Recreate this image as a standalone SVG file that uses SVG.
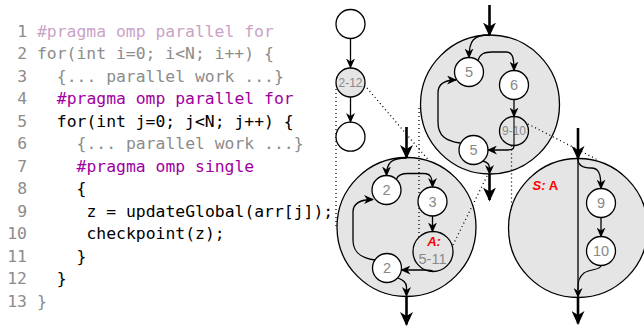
<svg xmlns="http://www.w3.org/2000/svg" width="644" height="327" viewBox="0 0 644 327">
<style>
.code{font-family:"DejaVu Sans Mono","Liberation Mono",monospace;font-size:16.4px}
.ln{fill:#8c8c8c;text-anchor:end}
.pk{fill:#c9a3c6}
.gy{fill:#8c8c8c}
.pu{fill:#a000a0}
.bk{fill:#000}
.big{fill:#e5e5e5;stroke:#000;stroke-width:1.3}
.nd{fill:#fff;stroke:#000;stroke-width:1.3}
.ndg{fill:#e5e5e5;stroke:#000;stroke-width:1.3}
.lbl{font-family:"Liberation Sans",Arial,sans-serif;font-size:14.5px;fill:#888;text-anchor:middle}
.sm{font-size:12px}
.thin{fill:none;stroke:#000;stroke-width:1.3;marker-end:url(#ah)}
.line{fill:none;stroke:#000;stroke-width:1.1}
.thick{fill:none;stroke:#000;stroke-width:2.6;marker-end:url(#AH)}
.dot{fill:none;stroke:#000;stroke-width:1.3;stroke-dasharray:1 3}
.red{font-family:"Liberation Sans",Arial,sans-serif;font-weight:bold;fill:#f00;font-size:13px}
</style>
<defs>
<marker id="ah" markerUnits="userSpaceOnUse" viewBox="0 0 10 9" refX="9" refY="4.5" markerWidth="10" markerHeight="9" orient="auto"><path d="M0,0 L10,4.5 L0,9 L3,4.5 Z"/></marker>
<marker id="AH" markerUnits="userSpaceOnUse" viewBox="0 0 14 13" refX="12.5" refY="6.5" markerWidth="14" markerHeight="13" orient="auto"><path d="M0,0 L14,6.5 L0,13 L4,6.5 Z"/></marker>
</defs>

<g id="code" class="code">
<text y="36.5"><tspan class="ln" x="27">1</tspan><tspan class="pk" x="37">#pragma omp parallel for</tspan></text>
<text y="59"><tspan class="ln" x="27">2</tspan><tspan class="gy" x="37">for(int i=0; i&lt;N; i++) {</tspan></text>
<text y="81.5"><tspan class="ln" x="27">3</tspan><tspan class="gy" x="56.8">{... parallel work ...}</tspan></text>
<text y="104"><tspan class="ln" x="27">4</tspan><tspan class="pu" x="56.8">#pragma omp parallel for</tspan></text>
<text y="126.5"><tspan class="ln" x="27">5</tspan><tspan class="bk" x="56.8">for(int j=0; j&lt;N; j++) {</tspan></text>
<text y="149"><tspan class="ln" x="27">6</tspan><tspan class="gy" x="76.6">{... parallel work ...}</tspan></text>
<text y="171.5"><tspan class="ln" x="27">7</tspan><tspan class="pu" x="76.6">#pragma omp single</tspan></text>
<text y="194"><tspan class="ln" x="27">8</tspan><tspan class="bk" x="76.6">{</tspan></text>
<text y="216.5"><tspan class="ln" x="27">9</tspan><tspan class="bk" x="86.5">z = updateGlobal(arr[j]);</tspan></text>
<text y="239"><tspan class="ln" x="27">10</tspan><tspan class="bk" x="86.5">checkpoint(z);</tspan></text>
<text y="261.5"><tspan class="ln" x="27">11</tspan><tspan class="bk" x="76.6">}</tspan></text>
<text y="284"><tspan class="ln" x="27">12</tspan><tspan class="bk" x="56.8">}</tspan></text>
<text y="306.5"><tspan class="ln" x="27">13</tspan><tspan class="gy" x="37">}</tspan></text>
</g>

<g id="region-5-11"><circle class="big" cx="490" cy="104.5" r="69.5"/></g>
<g id="region-2-12"><circle class="big" cx="406.5" cy="227" r="69.5"/></g>
<g id="region-9-10"><circle class="big" cx="578" cy="228" r="69.5"/>
<text class="red" x="532.5" y="190"><tspan font-style="italic">S:</tspan> A</text></g>

<g id="zoom-lines">
<path class="dot" d="M336,89 L336,228"/>
<path class="dot" d="M367,88 L428,159.5"/>
<path class="dot" d="M419,108 L419,242"/>
<path class="dot" d="M453,245 L488,174"/>
<path class="dot" d="M511.5,145.5 L511.5,210"/>
<path class="dot" d="M528,124 L598,160"/>
</g>

<g id="n-start"><circle class="nd" cx="350.5" cy="24" r="14.5"/></g>
<g id="n-2-12"><circle class="ndg" cx="350.5" cy="82.5" r="14.5"/><text class="lbl sm" x="350.5" y="87">2-12</text></g>
<g id="n-end"><circle class="nd" cx="350.5" cy="136.7" r="14.5"/></g>

<g id="u-5a"><circle class="nd" cx="469" cy="72" r="14.5"/><text class="lbl" x="469" y="77.2">5</text></g>
<g id="u-6"><circle class="nd" cx="514" cy="85" r="14.5"/><text class="lbl" x="514" y="90.2">6</text></g>
<g id="u-9-10"><circle class="ndg" cx="514" cy="131" r="14.5"/><text class="lbl sm" x="514" y="135.3">9-10</text></g>
<g id="u-5b"><circle class="nd" cx="473.5" cy="150" r="14.5"/><text class="lbl" x="473.5" y="155.2">5</text></g>

<g id="b-2a"><circle class="nd" cx="386.5" cy="190" r="14.5"/><text class="lbl" x="386.5" y="195.2">2</text></g>
<g id="b-3"><circle class="nd" cx="432.5" cy="201.5" r="14.5"/><text class="lbl" x="432.5" y="206.7">3</text></g>
<g id="b-A"><circle class="ndg" cx="433" cy="251.5" r="20"/><text class="red" x="434" y="245.5" text-anchor="middle" font-style="italic" font-size="14">A:</text><text class="lbl" x="432.5" y="264" font-size="13">5-11</text></g>
<g id="b-2b"><circle class="nd" cx="387" cy="268" r="14.5"/><text class="lbl" x="387" y="273.2">2</text></g>

<g id="r-9"><circle class="nd" cx="601" cy="203" r="14.5"/><text class="lbl" x="601" y="208.2">9</text></g>
<g id="r-10"><circle class="nd" cx="601" cy="251" r="14.5"/><text class="lbl" x="601" y="256.2">10</text></g>

<g id="connectors">
<path class="thin" d="M350.5,38.5 L350.5,67.5"/>
<path class="thin" d="M350.5,97 L350.5,122"/>

<path class="thick" d="M489.5,5 L489.5,35"/>
<path class="thin" d="M489.5,35 C474,35 469,40 469,57.5"/>
<path class="thin" d="M478,60.5 C480,54 484,52 492,52 L506,52 C512,52 514,56 514,70.5"/>
<path class="thin" d="M514,99.5 L514,116.5"/>
<path class="line" d="M514,116.5 L514,145.5"/>
<path class="thin" d="M514,145.5 C514,150 511,150 505,150 L488,150"/>
<path class="thin" d="M460,143 C446,141 438,136 438,122 L438,93 C438,84 444,80 456,80"/>
<path class="thin" d="M483,161 C487,162 489.5,164 489.5,168 L489.5,174"/>
<path class="thick" d="M489.5,174 L489.5,200"/>

<path class="thick" d="M406.5,127 L406.5,157.5"/>
<path class="thin" d="M406.5,158 C392,158 386.5,162 386.5,175.5"/>
<path class="thin" d="M396.5,179 C398,175 401,173.5 408,173.5 L424,173.5 C430,173.5 432.5,177 432.5,187"/>
<path class="thin" d="M432.5,216 L432.5,231.5"/>
<path class="thin" d="M433,271.5 C432,270 429,270 424,270 L401.5,270"/>
<path class="thin" d="M375,260 C360,258 353,252 353,240 L353,212 C353,203 360,199.5 373,199.5"/>
<path class="thin" d="M398,278 C403,280 406.5,282 406.5,287 L406.5,296"/>
<path class="thick" d="M406.5,296 L406.5,324.5"/>

<path class="thick" d="M578,128 L578,158.5"/>
<path class="thin" d="M578,158.5 L578,297"/>
<path class="thin" d="M578,159 C578,166 583,168 591,168 C598,168 601,172 601,188.5"/>
<path class="thin" d="M601,217.5 L601,236.5"/>
<path class="line" d="M601,265.5 C601,270 590,269 584,273 C579,277 578,281 578,290"/>
<path class="thick" d="M578,297 L578,323.5"/>
</g>
</svg>
